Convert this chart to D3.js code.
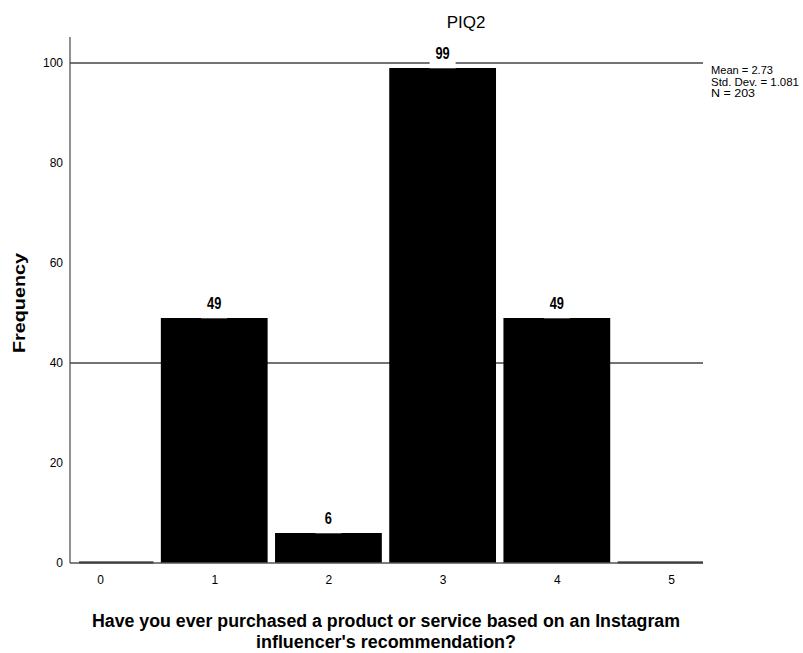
<!DOCTYPE html>
<html><head><meta charset="utf-8">
<script src="https://cdn.jsdelivr.net/npm/d3@7"></script>
<style>body{margin:0;background:#fff}</style>
</head><body>
<script>
const categories = [0, 1, 2, 3, 4, 5];
const frequencies = [0, 49, 6, 99, 49, 0];
const yTicks = [0, 20, 40, 60, 80, 100];
const gridValues = [40, 100];
const stats = ["Mean = 2.73", "Std. Dev. = 1.081", "N = 203"];
const title = "PIQ2";
const xTitle = ["Have you ever purchased a product or service based on an Instagram", "influencer's recommendation?"];
const yTitle = "Frequency";

const W = 803, H = 653;
const FONT = "Liberation Sans, Arial, sans-serif";
const svg = d3.select("body").append("svg").attr("width", W).attr("height", H)
  .style("font-family", FONT);

const x = d3.scaleLinear().domain([-0.263, 5.28]).range([70, 703]);
const y = d3.scaleLinear().domain([0, 100]).range([563, 63]);
const barW = (x(1) - x(0)) * 0.935;

svg.append("clipPath").attr("id", "plotclip").append("rect")
  .attr("x", 79).attr("y", 30).attr("width", 703 - 79).attr("height", 540);

// gridlines
svg.selectAll("line.grid").data(gridValues).join("line")
  .attr("x1", 70).attr("x2", 703).attr("y1", d => y(d)).attr("y2", d => y(d))
  .attr("stroke", "#444").attr("stroke-width", 1.3);

// bars
svg.append("g").attr("clip-path", "url(#plotclip)")
  .selectAll("rect").data(categories).join("rect")
  .attr("x", d => x(d) - barW / 2)
  .attr("y", (d, i) => y(frequencies[i]) - (frequencies[i] === 0 ? 1.5 : 0))
  .attr("width", barW)
  .attr("height", (d, i) => Math.max(2, y(0) - y(frequencies[i])))
  .attr("fill", "#000");

// labels
const shown = categories.filter((d, i) => frequencies[i] > 0);
const lab = svg.selectAll("g.lab").data(shown).join("g");
lab.append("rect")
  .attr("x", d => x(d) - 13).attr("width", 26)
  .attr("y", d => y(frequencies[categories.indexOf(d)]) - 16).attr("height", 16.3)
  .attr("fill", "#fff");
lab.append("text")
  .attr("x", d => x(d)).attr("y", d => y(frequencies[categories.indexOf(d)]) - 9)
  .attr("text-anchor", "middle").attr("font-size", 16).attr("font-weight", "bold")
  .attr("transform-origin", d => `${x(d)} 0`)
  .attr("transform", "scale(0.8,1)")
  .text(d => frequencies[categories.indexOf(d)]);

// axes
const yAxis = d3.axisLeft(y).tickValues(yTicks).tickSize(0).tickPadding(7);
const gy = svg.append("g").attr("transform", "translate(70,0)").call(yAxis);
gy.select(".domain").attr("stroke", "#555").attr("stroke-width", 1.3).attr("d", "M0,37V563");
gy.selectAll("text").attr("font-size", 12).attr("fill", "#000").attr("font-family", FONT);

const xAxis = d3.axisBottom(x).tickValues(categories).tickFormat(d3.format("d")).tickSize(0).tickPadding(12);
const gx = svg.append("g").attr("transform", "translate(0,563)").call(xAxis);
gx.select(".domain").attr("stroke", "#555").attr("stroke-width", 1.3).attr("d", "M70,0H703");
gx.selectAll("text").attr("font-size", 12).attr("fill", "#000").attr("font-family", FONT);

// title
svg.append("text").attr("x", 466).attr("y", 28).attr("text-anchor", "middle")
  .attr("font-size", 17).text(title);

// stats
const statLen = [62, 88, 44];
svg.selectAll("text.stat").data(stats).join("text")
  .attr("x", 711).attr("y", (d, i) => 74 + i * 11.5)
  .attr("font-size", 11)
  .attr("textLength", (d, i) => statLen[i]).attr("lengthAdjust", "spacingAndGlyphs")
  .text(d => d);

// axis titles
svg.append("text").attr("transform", "translate(25,303) rotate(-90)")
  .attr("text-anchor", "middle").attr("font-size", 16).attr("font-weight", "bold")
  .attr("textLength", 100).attr("lengthAdjust", "spacingAndGlyphs").text(yTitle);
const xtLen = [588, 260];
svg.selectAll("text.xt").data(xTitle).join("text")
  .attr("x", 386).attr("y", (d, i) => 627 + i * 21)
  .attr("text-anchor", "middle").attr("font-size", 18).attr("font-weight", "bold")
  .attr("textLength", (d, i) => xtLen[i]).attr("lengthAdjust", "spacingAndGlyphs")
  .text(d => d);
</script>
</body></html>
